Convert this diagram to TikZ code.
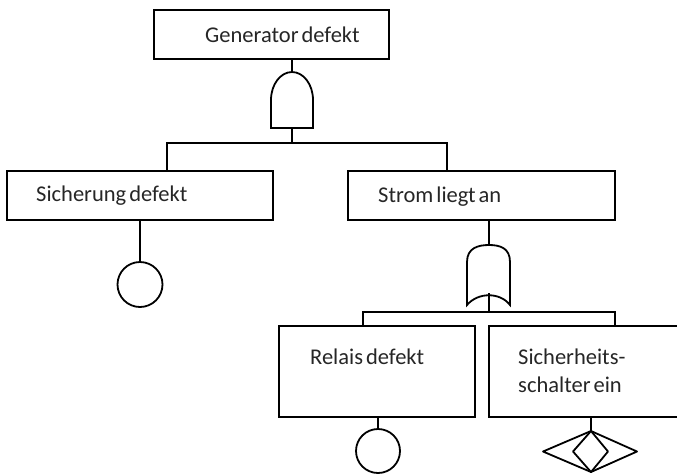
\documentclass[tikz,border=0pt]{standalone}
\usepackage{fontspec}
\setmainfont{Carlito}
\newcommand\mylblfont{\fontsize{22.5}{27}\selectfont\spaceskip=3pt\relax}
\begin{document}
\begin{tikzpicture}[x=1pt,y=-1pt,
  evbox/.style={draw,line width=2pt,inner sep=0pt,anchor=north west},
  lbl/.style={anchor=west,inner sep=0pt,font=\mylblfont,text=black!85},
  con/.style={line width=1.4pt},
  gate/.style={line width=1.8pt}]
\useasboundingbox (0,0) rectangle (677,475);
\clip (0,0) rectangle (677,475);
% boxes
\node[evbox,minimum width=235pt,minimum height=49pt] (top) at (153,9) {};
\node[evbox,minimum width=266pt,minimum height=49pt] (sich) at (6,170) {};
\node[evbox,minimum width=267pt,minimum height=49pt] (strom) at (347,170) {};
\node[evbox,minimum width=196pt,minimum height=91pt] (relais) at (278,325) {};
\node[evbox,minimum width=200pt,minimum height=91pt] (schalter) at (488,325) {};
% labels
\node[lbl] (ttop) at (205,35) {Generator defekt};
\node[lbl] (tsich) at (36,196) {Sicherung defekt};
\node[lbl] (tstrom) at (378,197) {Strom liegt an};
\node[lbl] (trelais) at (310,357) {Relais defekt};
\node[lbl] (tsch1) at (518,357) {Sicherheits-};
\node[lbl] (tsch2) at (518,385) {schalter ein};
% AND gate
\coordinate (andtop) at (292,72);
\coordinate (andbot) at (292,128);
\draw[gate] (271,128) -- (271,100) arc[start angle=180,end angle=0,x radius=21,y radius=-28] -- (313,128) -- cycle;
% OR gate
\coordinate (ortop) at (489,245);
\coordinate (orbot) at (489,293);
\draw[gate] (467,305) -- (467,262) .. controls (467,248) and (478,245) .. (489,245)
  .. controls (500,245) and (510,248) .. (510,262) -- (510,305)
  .. controls (500,292) and (478,292) .. cycle;
% basic events
\node[draw,circle,line width=1.8pt,minimum size=45pt,inner sep=0pt] (c1) at (140,284.5) {};
\node[draw,circle,line width=1.8pt,minimum size=44pt,inner sep=0pt] (c2) at (378,451) {};
\coordinate (dtop) at (591,431);
\draw[gate,line join=round] (543,451.5) -- (dtop) -- (637,451.5) -- (591,472) -- cycle;
\draw[gate,line join=round] (573,451.5) -- (dtop) -- (608,451.5) -- (591,472) -- cycle;
% connectors
\coordinate (h1l) at (167,143);
\coordinate (h1r) at (447,143);
\coordinate (h1m) at (292,143);
\coordinate (h2l) at (363,312);
\coordinate (h2r) at (615,312);
\coordinate (h2m) at (489,312);
\draw[con] (top.south -| andtop) -- (andtop);
\draw[con] (andbot) -- (h1m);
\draw[con] (sich.north -| h1l) -- (h1l) -- (h1r) -- (strom.north -| h1r);
\draw[con] (sich.south -| c1) -- (c1.north);
\draw[con] (strom.south -| ortop) -- (ortop);
\draw[con] (orbot) -- (h2m);
\draw[con] (relais.north -| h2l) -- (h2l) -- (h2r) -- (schalter.north -| h2r);
\draw[con] (relais.south -| c2) -- (c2.north);
\draw[con] (schalter.south -| dtop) -- (dtop);
\end{tikzpicture}
\end{document}
